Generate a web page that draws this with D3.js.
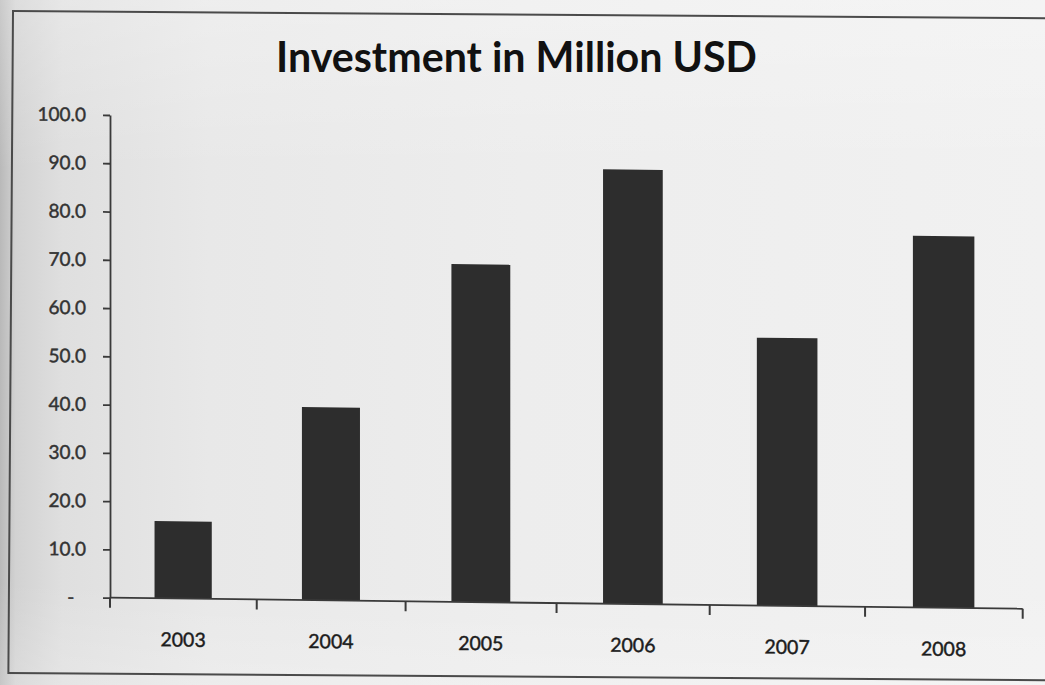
<!DOCTYPE html>
<html>
<head>
<meta charset="utf-8">
<script src="https://cdn.jsdelivr.net/npm/d3@7"></script>
<style>
  html, body { margin: 0; padding: 0; background: #e4e4e4; overflow: hidden; }
  svg { display: block; }
</style>
</head>
<body>
<svg id="chart" width="1045" height="685"></svg>
<script>
// ---- data ----
const years = ["2003", "2004", "2005", "2006", "2007", "2008"];
const investment = [16, 40, 70, 90, 55.5, 77];
const yTickValues = [0, 10, 20, 30, 40, 50, 60, 70, 80, 90, 100];
const yTickLabels = ["-", "10.0", "20.0", "30.0", "40.0", "50.0", "60.0", "70.0", "80.0", "90.0", "100.0"];
const chartTitle = "Investment in Million USD";

// ---- layout ----
const width = 1045, height = 685;
const plot = { left: 110, right: 1022.7, top: 115, bottom: 597.7 };
const fontFamily = "Lato, 'Open Sans', 'DejaVu Sans', sans-serif";

// The printed page is photographed at a slight angle: the chart leans
// downward to the right and the far side is drawn a little wider.
const lean = 0.0121;       // vertical drop per pixel to the right
const depth = -0.042;      // horizontal foreshortening of the left side
const span = plot.right - plot.left;
const warp = px => {
  const t = (px - plot.left) / span;
  return plot.left + span * (1 + depth) * t / (1 + depth * t);
};

const svg = d3.select("#chart");

// ---- paper background ----
const defs = svg.append("defs");
const paper = defs.append("linearGradient").attr("id", "paper")
  .attr("x1", "0").attr("x2", "1").attr("y1", "0").attr("y2", "0");
[[0, "#b9b9b9"], [0.015, "#d2d2d2"], [0.06, "#dfdfdf"], [0.2, "#e8e8e8"],
 [0.5, "#ededed"], [1, "#f1f1f1"]].forEach(([o, c]) =>
  paper.append("stop").attr("offset", o).attr("stop-color", c));
const shade = defs.append("linearGradient").attr("id", "shade")
  .attr("x1", "0").attr("x2", "0").attr("y1", "0").attr("y2", "1");
[[0, "#ffffff", 0.25], [0.25, "#ffffff", 0], [0.85, "#ffffff", 0], [1, "#ffffff", 0.2]]
  .forEach(([o, c, a]) => shade.append("stop").attr("offset", o)
    .attr("stop-color", c).attr("stop-opacity", a));

svg.append("rect").attr("width", width).attr("height", height).attr("fill", "url(#paper)");
svg.append("rect").attr("width", width).attr("height", height).attr("fill", "url(#shade)");

// chart-area frame
svg.append("rect")
  .attr("x", 13).attr("y", 11).attr("width", 1100).attr("height", 662)
  .attr("fill", "none").attr("stroke", "#4a4a4a").attr("stroke-width", 2)
  .attr("transform", "rotate(0.4, 13, 11)");

// ---- title ----
const title = svg.append("text")
  .attr("x", 516.5).attr("y", 72)
  .attr("text-anchor", "middle")
  .attr("font-family", fontFamily)
  .attr("font-weight", "bold")
  .attr("font-size", 36)
  .attr("fill", "#111")
  .text(chartTitle);
const titleLen = title.node().getComputedTextLength();
title.attr("font-size", 36 * 481 / titleLen);

// ---- scales ----
const y = d3.scaleLinear().domain([0, 100]).range([plot.bottom, plot.top]);
const x = d3.scaleBand().domain(years)
  .range([plot.left, plot.right])
  .paddingInner(0.61).paddingOuter(0.305);

const g = svg.append("g")
  .attr("transform", `matrix(1, ${lean}, 0, 1, 0, ${-lean * plot.left})`);

// ---- bars ----
g.selectAll("rect.bar")
  .data(years.map((yr, i) => ({ year: yr, value: investment[i] })))
  .join("rect")
  .attr("class", "bar")
  .attr("x", d => warp(x(d.year)))
  .attr("width", d => warp(x(d.year) + x.bandwidth()) - warp(x(d.year)))
  .attr("y", d => y(d.value))
  .attr("height", d => y(0) - y(d.value))
  .attr("fill", "#2d2d2d");

// ---- y axis ----
const yAxis = g.append("g")
  .attr("transform", `translate(${plot.left},0)`)
  .call(d3.axisLeft(y)
    .tickValues(yTickValues)
    .tickFormat((d, i) => yTickLabels[i])
    .tickSize(7).tickSizeOuter(0).tickPadding(17));
yAxis.select(".domain").attr("stroke", "#3a3a3a").attr("stroke-width", 1.8);
yAxis.selectAll(".tick line").attr("stroke", "#3a3a3a").attr("stroke-width", 1.8);
yAxis.selectAll(".tick text")
  .attr("font-family", fontFamily)
  .attr("font-size", 19)
  .attr("fill", "#333")
  .attr("stroke", "#333")
  .attr("stroke-width", 0.45)
  .attr("dx", d => d === 0 ? "-0.62em" : 0);

// ---- x axis (ticks between categories, Excel style) ----
const xAxis = g.append("g");
const gap = (x.step() - x.bandwidth()) / 2;
const boundaries = years.map(d => x(d) - gap).concat([x.range()[1]]);
xAxis.append("line")
  .attr("x1", warp(x.range()[0])).attr("x2", warp(x.range()[1]))
  .attr("y1", y(0)).attr("y2", y(0))
  .attr("stroke", "#3a3a3a").attr("stroke-width", 1.8);
xAxis.selectAll("line.tick")
  .data(boundaries)
  .join("line")
  .attr("class", "tick")
  .attr("x1", d => warp(d)).attr("x2", d => warp(d))
  .attr("y1", y(0)).attr("y2", y(0) + 10)
  .attr("stroke", "#3a3a3a").attr("stroke-width", 2);
xAxis.selectAll("text")
  .data(years)
  .join("text")
  .attr("x", d => warp(x(d) + x.bandwidth() / 2))
  .attr("y", y(0) + 48)
  .attr("text-anchor", "middle")
  .attr("font-family", fontFamily)
  .attr("font-size", 19.5)
  .attr("fill", "#1c1c1c")
  .attr("stroke", "#1c1c1c")
  .attr("stroke-width", 0.45)
  .text(d => d);
</script>
</body>
</html>
